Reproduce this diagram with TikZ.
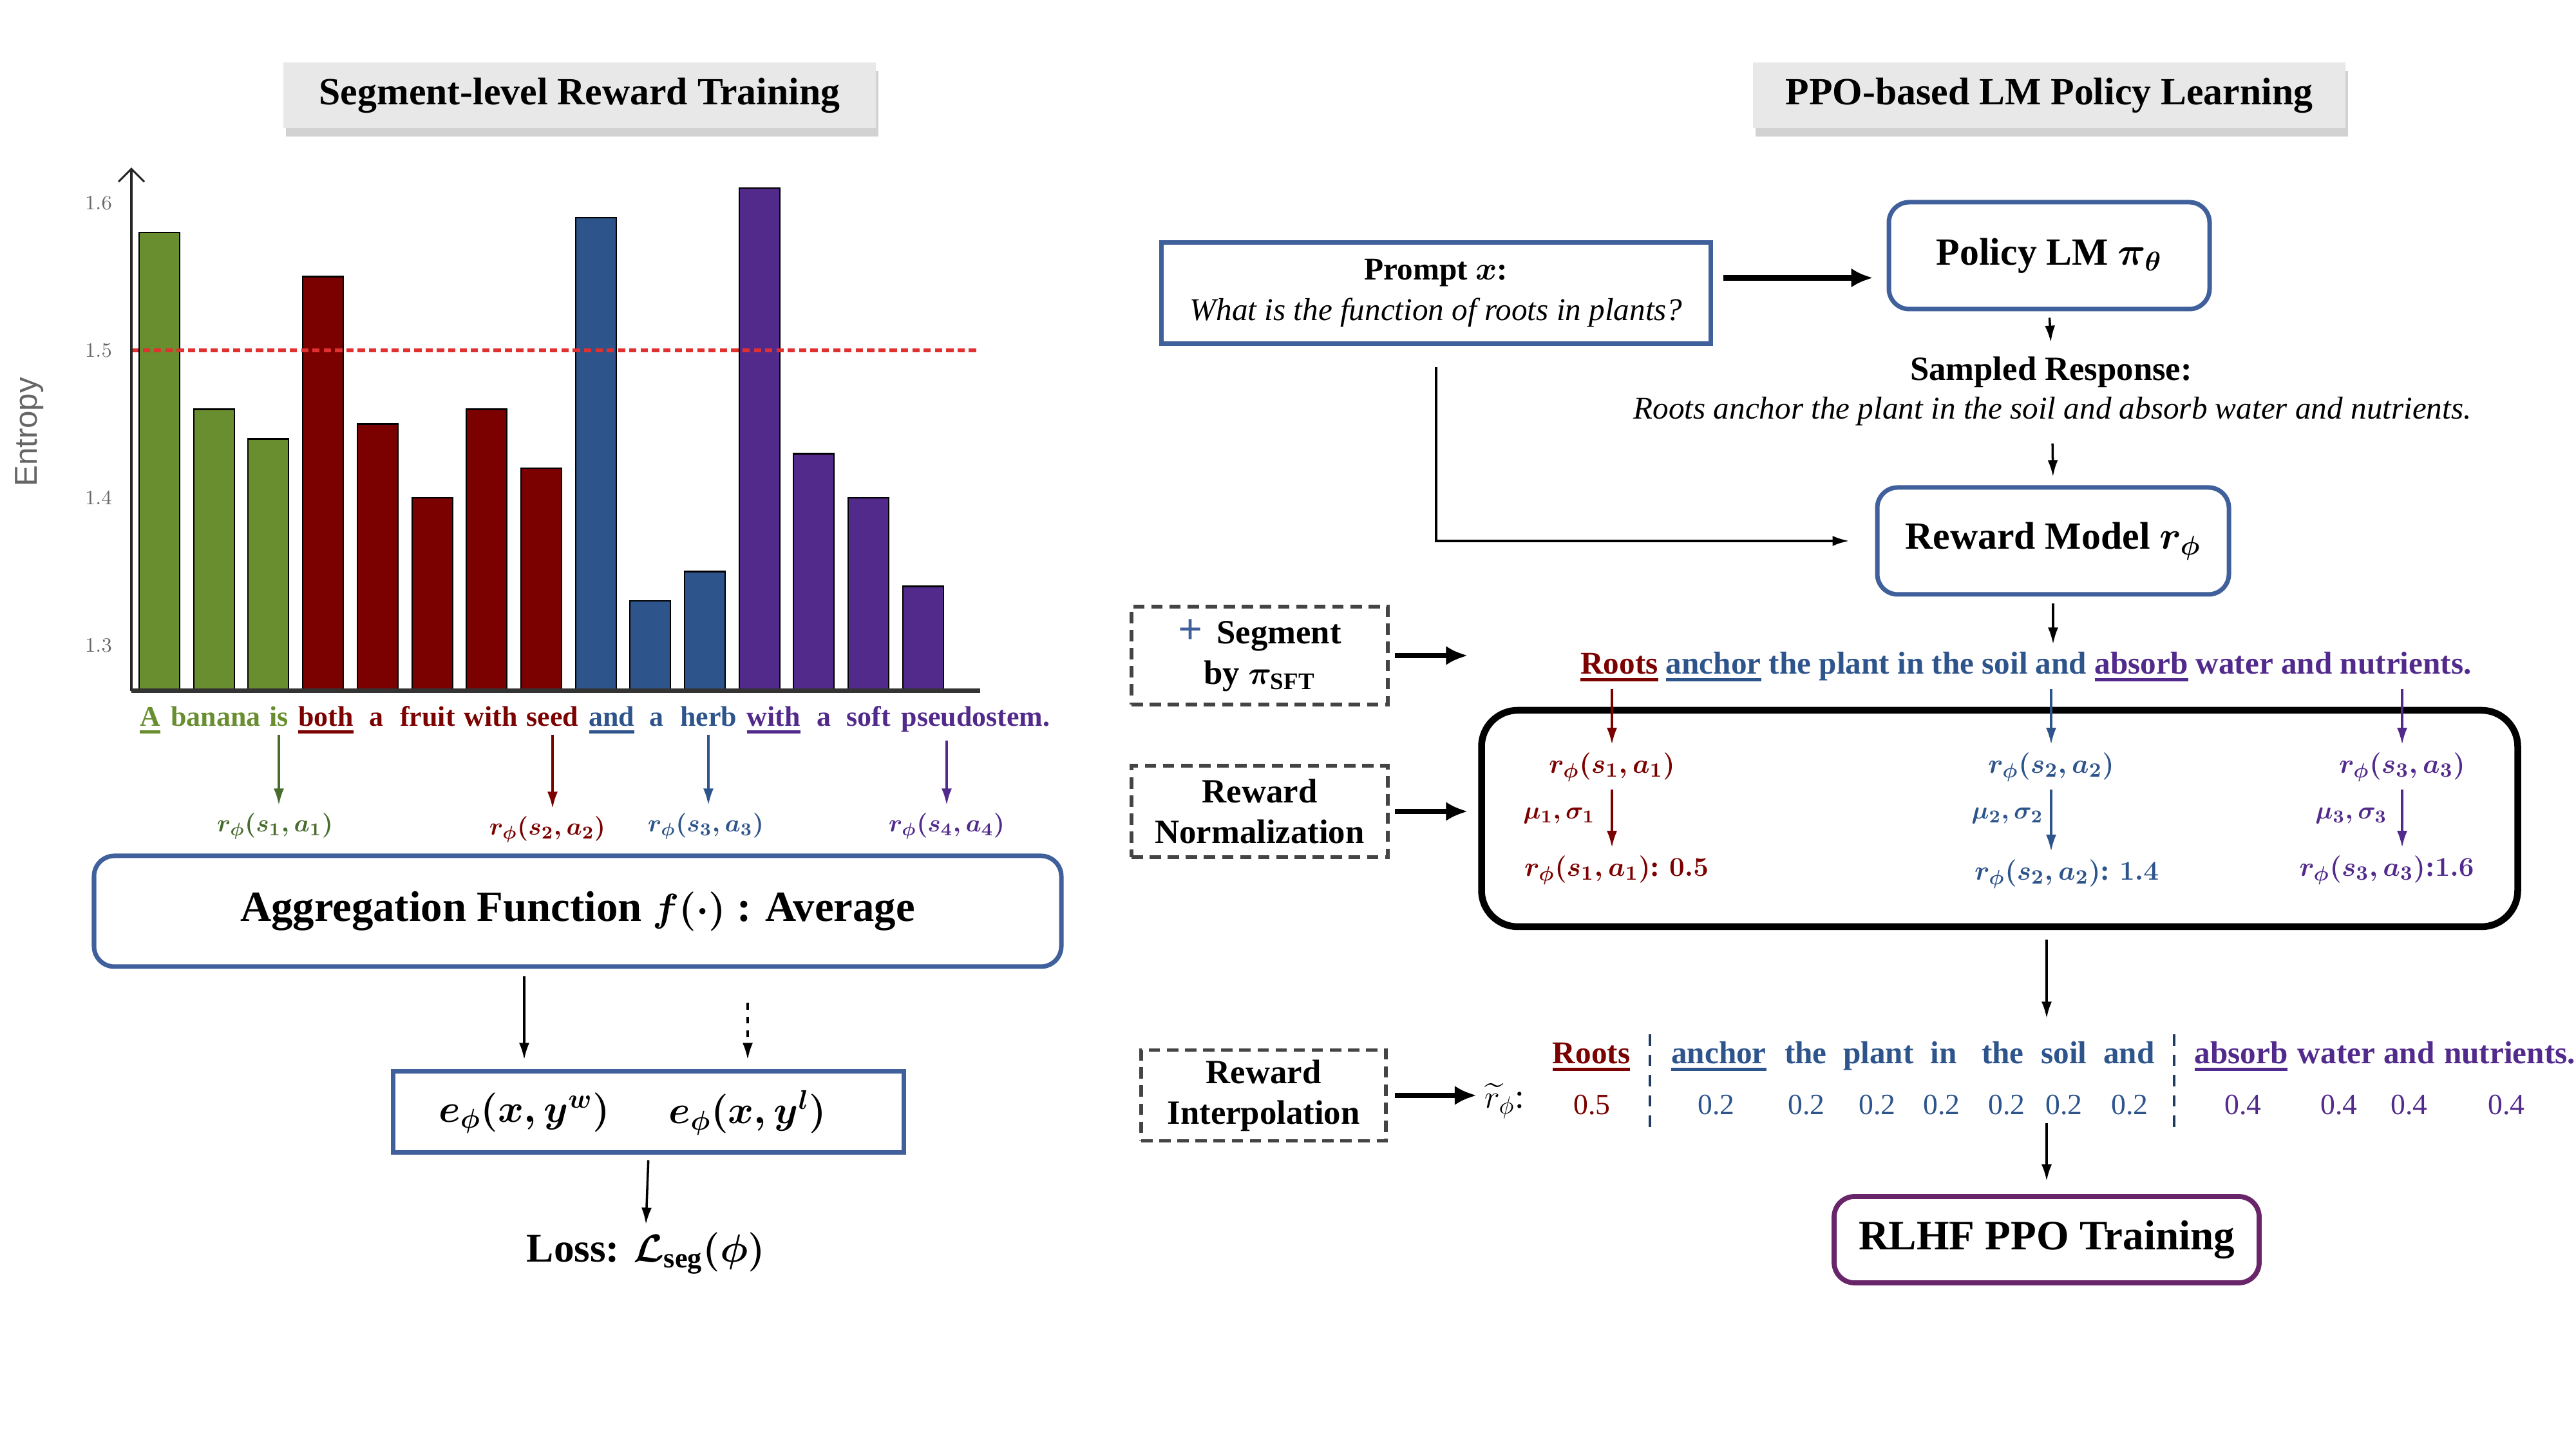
\documentclass[tikz,border=0pt]{standalone}
\usepackage{amsmath,amssymb}
\usepackage{fontspec}
\setmainfont{Liberation Serif}
\setsansfont{Liberation Sans}
\usepackage{tikz}
\usetikzlibrary{arrows.meta,positioning,shadows}

\definecolor{segG}{RGB}{104,142,48}
\definecolor{segGd}{RGB}{72,108,46}
\definecolor{segR}{RGB}{123,0,0}
\definecolor{segB}{RGB}{46,84,140}
\definecolor{segP}{RGB}{82,42,140}
\definecolor{boxblue}{RGB}{64,96,155}
\definecolor{ppobox}{RGB}{105,37,105}
\definecolor{dashgray}{RGB}{68,68,68}
\definecolor{cutline}{RGB}{224,48,48}

\newcommand{\sz}[2]{\fontsize{#1}{#2}\selectfont}
\newcommand{\segline}[1]{\setbox0=\hbox{#1}\rlap{\rule[-3pt]{\wd0}{1.2pt}}\box0\relax}

\tikzset{
>={Latex[length=2.6mm,width=1.6mm]}, % default arrow head
headbox/.style={fill=gray!18, minimum width=9.2cm, minimum height=1.02cm, font=\bfseries\sz{17}{20}, drop shadow={shadow xshift=0.4mm, shadow yshift=-1.3mm, fill=black!35}},
bar/.style={draw=black, line width=0.7pt},
ticklab/.style={text=black!60, font=\sz{9}{11}},
word/.style={anchor=base, font=\bfseries\sz{12.5}{15}},
rlab/.style={font=\bfseries\boldmath\sz{11}{13}},
bluebox/.style={draw=boxblue, line width=2pt, rounded corners=9pt},
sqbox/.style={draw=boxblue, line width=2pt},
dashbox/.style={draw=dashgray, line width=1.6pt, dash pattern=on 5pt off 3pt, align=center, font=\bfseries\boldmath\sz{15}{18}},
flow/.style={->, line width=1pt}, % thin connectors
bigflow/.style={-{Latex[length=3.4mm,width=3mm]}, line width=2.4pt}, % bold connectors
iword/.style={anchor=base, font=\bfseries\sz{14}{16}},
ival/.style={anchor=base, font=\sz{13}{15}},
}

\begin{document}
\begin{tikzpicture}
    \useasboundingbox (0,0) rectangle (40,22.5);
    % headers
    \node[headbox] at (9.0,21.02) (t1) {Segment-level Reward Training};
    \node[headbox] at (31.82,21.02) (t2) {PPO-based LM Policy Learning};

    % entropy bars
    \begin{scope}[yshift=-17.29cm, y=22.9cm]
    \draw[bar, fill=segG] (2.16,1.269) rectangle (2.79,1.58);
    \draw[bar, fill=segG] (3.01,1.269) rectangle (3.64,1.46);
    \draw[bar, fill=segG] (3.85,1.269) rectangle (4.48,1.44);
    \draw[bar, fill=segR] (4.70,1.269) rectangle (5.33,1.55);
    \draw[bar, fill=segR] (5.55,1.269) rectangle (6.18,1.45);
    \draw[bar, fill=segR] (6.40,1.269) rectangle (7.03,1.40);
    \draw[bar, fill=segR] (7.24,1.269) rectangle (7.87,1.46);
    \draw[bar, fill=segR] (8.09,1.269) rectangle (8.72,1.42);
    \draw[bar, fill=segB] (8.94,1.269) rectangle (9.57,1.59);
    \draw[bar, fill=segB] (9.78,1.269) rectangle (10.41,1.33);
    \draw[bar, fill=segB] (10.63,1.269) rectangle (11.26,1.35);
    \draw[bar, fill=segP] (11.48,1.269) rectangle (12.11,1.61);
    \draw[bar, fill=segP] (12.32,1.269) rectangle (12.95,1.43);
    \draw[bar, fill=segP] (13.17,1.269) rectangle (13.80,1.40);
    \draw[bar, fill=segP] (14.02,1.269) rectangle (14.65,1.34);
    \draw[cutline, line width=1.6pt, dash pattern=on 3.2pt off 1.8pt] (2.04,1.5) -- (15.2,1.5);
    \draw[-{Straight Barb[length=2mm]}, line width=0.9pt, black!85] (2.04,1.269) -- (2.04,1.624);
    \draw[line width=2pt, black!80] (2.04,1.269) -- (15.22,1.269);
    \node[ticklab] at (1.53,1.6) (y16) {$1.6$};
    \node[ticklab] at (1.53,1.5) (y15) {$1.5$};
    \node[ticklab] at (1.53,1.4) (y14) {$1.4$};
    \node[ticklab] at (1.53,1.3) (y13) {$1.3$};
    \end{scope}
    \node[rotate=90, text=black!60, font=\sffamily\sz{14}{16}] at (0.46,15.79) (ylab) {Entropy};

    % tokens under the bars
    \node[word, segG] at (2.33,11.22) (w1) {\segline{A}};
    \node[word, segG] at (3.35,11.22) (w2) {banana};
    \node[word, segG] at (4.33,11.22) (w3) {is};
    \node[word, segR] at (5.06,11.22) (w4) {\segline{both}};
    \node[word, segR] at (5.84,11.22) (w5) {a};
    \node[word, segR] at (6.64,11.22) (w6) {fruit};
    \node[word, segR] at (7.62,11.22) (w7) {with};
    \node[word, segR] at (8.58,11.22) (w8) {seed};
    \node[word, segB] at (9.50,11.22) (w9) {\segline{and}};
    \node[word, segB] at (10.19,11.22) (w10) {a};
    \node[word, segB] at (11.00,11.22) (w11) {herb};
    \node[word, segP] at (12.01,11.22) (w12) {\segline{with}};
    \node[word, segP] at (12.79,11.22) (w13) {a};
    \node[word, segP] at (13.49,11.22) (w14) {soft};
    \node[word, segP] at (15.15,11.22) (w15) {pseudostem.};
    \node[rlab, segGd] at (4.27,9.67) (r1) {$r_{\phi}(s_1,a_1)$};
    \node[rlab, segR] at (8.50,9.62) (r2) {$r_{\phi}(s_2,a_2)$};
    \node[rlab, segB] at (10.96,9.67) (r3) {$r_{\phi}(s_3,a_3)$};
    \node[rlab, segP] at (14.70,9.67) (r4) {$r_{\phi}(s_4,a_4)$};

    \node[bluebox, minimum width=15.02cm, minimum height=1.72cm, font=\bfseries\boldmath\sz{19}{22}] at (8.97,8.35) (agg) {Aggregation Function $f(\cdot)$ : Average};
    \node[sqbox, minimum width=7.93cm, minimum height=1.26cm] at (10.07,5.23) (ebox) {};
    \node[font=\boldmath\sz{17}{20}] at (8.14,5.22) (ew) {$e_{\phi}(x,y^{w})$};
    \node[font=\boldmath\sz{17}{20}] at (11.61,5.22) (el) {$e_{\phi}(x,y^{l})$};
    \node[font=\bfseries\boldmath\sz{18}{21}] at (10.03,3.04) (loss) {Loss: $\mathcal{L}_{\mathrm{seg}}(\phi)$};

    % policy side
    \node[sqbox, minimum width=8.53cm, minimum height=1.57cm, align=center, font=\sz{14}{18}] at (22.30,17.95) (prompt) {\textbf{Prompt \boldmath$x$:}\\ \textit{What is the function of roots in plants?}};
    \node[bluebox, minimum width=4.98cm, minimum height=1.66cm, font=\bfseries\boldmath\sz{17}{20}] at (31.82,18.53) (policy) {Policy LM $\pi_{\theta}$};
    \node[font=\bfseries\sz{15}{18}] at (31.85,16.72) (samp) {Sampled Response:};
    \node[font=\itshape\sz{14}{16}] at (31.87,16.11) (resp) {Roots anchor the plant in the soil and absorb water and nutrients.};
    \node[bluebox, minimum width=5.46cm, minimum height=1.66cm, font=\bfseries\boldmath\sz{17}{20}] at (31.88,14.10) (reward) {Reward Model $r_{\phi}$};
    \node[dashbox, minimum width=3.98cm, minimum height=1.52cm] at (19.56,12.32) (seg) {{\color{boxblue}\sz{19}{18}+}\, Segment\\ by $\pi_{\mathrm{SFT}}$};
    \node[anchor=base, font=\bfseries\sz{14}{16}] at (31.46,12.03) (resp2) {{\color{segR}\segline{Roots}} {\color{segB}\segline{anchor} the plant in the soil and} {\color{segP}\segline{absorb} water and nutrients.}};

    % normalization
    \node[draw, line width=3pt, rounded corners=16pt, minimum width=16.09cm, minimum height=3.36cm] at (31.05,9.79) (normbox) {};
    \node[dashbox, minimum width=3.98cm, minimum height=1.42cm] at (19.56,9.90) (norm) {Reward\\ Normalization};
    \node[rlab, segR, font=\bfseries\boldmath\sz{12.5}{15}] at (25.03,10.59) (n1) {$r_{\phi}(s_1,a_1)$};
    \node[rlab, segB, font=\bfseries\boldmath\sz{12.5}{15}] at (31.85,10.59) (n2) {$r_{\phi}(s_2,a_2)$};
    \node[rlab, segP, font=\bfseries\boldmath\sz{12.5}{15}] at (37.30,10.59) (n3) {$r_{\phi}(s_3,a_3)$};
    \node[segR, font=\boldmath\sz{11}{13}] at (24.21,9.83) (m1) {$\mu_1,\sigma_1$};
    \node[segB, font=\boldmath\sz{11}{13}] at (31.17,9.83) (m2) {$\mu_2,\sigma_2$};
    \node[segP, font=\boldmath\sz{11}{13}] at (36.51,9.83) (m3) {$\mu_3,\sigma_3$};
    \node[segR, font=\bfseries\boldmath\sz{12.5}{15}] at (25.10,8.99) (v1) {$r_{\phi}(s_1,a_1)$: $0.5$};
    \node[segB, font=\bfseries\boldmath\sz{12.5}{15}] at (32.09,8.93) (v2) {$r_{\phi}(s_2,a_2)$: $1.4$};
    \node[segP, font=\bfseries\boldmath\sz{12.5}{15}] at (37.06,8.99) (v3) {$r_{\phi}(s_3,a_3)$:$1.6$};

    % interpolation
    \node[dashbox, minimum width=3.80cm, minimum height=1.41cm] at (19.62,5.49) (interp) {Reward\\ Interpolation};
    \node[font=\sz{15}{18}, inner sep=1pt] at (23.36,5.40) (rt) {$\widetilde{r}_{\phi}$:};
    \node[iword, segR] at (24.71,5.98) (iw1) {\segline{Roots}};
    \node[iword, segB] at (26.69,5.98) (iw2) {\segline{anchor}};
    \node[iword, segB] at (28.04,5.98) (iw3) {the};
    \node[iword, segB] at (29.17,5.98) (iw4) {plant};
    \node[iword, segB] at (30.18,5.98) (iw5) {in};
    \node[iword, segB] at (31.10,5.98) (iw6) {the};
    \node[iword, segB] at (32.05,5.98) (iw7) {soil};
    \node[iword, segB] at (33.06,5.98) (iw8) {and};
    \node[iword, segP] at (34.80,5.98) (iw9) {\segline{absorb}};
    \node[iword, segP] at (36.28,5.98) (iw10) {water};
    \node[iword, segP] at (37.41,5.98) (iw11) {and};
    \node[iword, segP] at (38.97,5.98) (iw12) {nutrients.};
    \node[ival, segR] at (24.72,5.19) (iv1) {0.5};
    \node[ival, segB] at (26.65,5.19) (iv2) {0.2};
    \node[ival, segB] at (28.05,5.19) (iv3) {0.2};
    \node[ival, segB] at (29.15,5.19) (iv4) {0.2};
    \node[ival, segB] at (30.15,5.19) (iv5) {0.2};
    \node[ival, segB] at (31.16,5.19) (iv6) {0.2};
    \node[ival, segB] at (32.05,5.19) (iv7) {0.2};
    \node[ival, segB] at (33.07,5.19) (iv8) {0.2};
    \node[ival, segP] at (34.83,5.19) (iv9) {0.4};
    \node[ival, segP] at (36.32,5.19) (iv10) {0.4};
    \node[ival, segP] at (37.41,5.19) (iv11) {0.4};
    \node[ival, segP] at (38.92,5.19) (iv12) {0.4};
    \draw[segB!70!black, line width=1pt, dash pattern=on 5pt off 4pt] (25.62,6.44) -- (25.62,4.94) (33.76,6.44) -- (33.76,4.94);

    \node[draw=ppobox, line width=2.2pt, rounded corners=9pt, minimum width=6.60cm, minimum height=1.34cm, font=\bfseries\sz{18.5}{22}] at (31.78,3.25) (rlhf) {RLHF PPO Training};

    \coordinate (pin) at ([yshift=2.35mm]prompt.east);
    \draw[flow, shorten <=3.3mm, shorten >=4mm] (prompt.south) |- (reward.west);
    \draw
    (w3.south) edge[flow, segGd] (w3.south |- r1.north)
    (w8.south) edge[flow, segR] (w8.south |- r2.north)
    (w11.south) edge[flow, segB] (w11.south |- r3.north)
    (r4.north |- w15.south) edge[flow, segP] (r4.north)
    (agg.south -| ew.north) edge[flow, shorten <=1.2mm, shorten >=1.5mm] (ebox.north -| ew.north)
    (agg.south -| el.north) edge[flow, dashed, shorten <=5.3mm, shorten >=1.5mm] (ebox.north -| el.north)
    (ebox.south) edge[flow, shorten <=0.8mm] (loss.north)
    (pin) edge[bigflow, shorten <=1.6mm, shorten >=2.1mm] (pin -| policy.west)
    (policy.south) edge[flow, shorten <=1mm, shorten >=1mm] (samp.north)
    (resp.south) edge[flow, shorten <=1.5mm, shorten >=1.3mm] (reward.north)
    (reward.south) edge[flow, shorten <=1.1mm] (reward.south |- resp2.north)
    (seg.east) edge[bigflow, shorten <=0.8mm, shorten >=1.6mm] (seg.east -| normbox.west)
    (norm.east) edge[bigflow, shorten <=0.8mm, shorten >=1.6mm] (norm.east -| normbox.west)
    (interp.east) edge[bigflow, shorten <=1.1mm, shorten >=0.8mm] (interp.east -| rt.west)
    (n1.north |- resp2.south) edge[flow, segR] (n1.north)
    (n2.north |- resp2.south) edge[flow, segB] (n2.north)
    (n3.north |- resp2.south) edge[flow, segP] (n3.north)
    (n1.south) edge[flow, segR] (n1.south |- v1.north)
    (n2.south) edge[flow, segB] (n2.south |- v2.north)
    (n3.south) edge[flow, segP] (n3.south |- v3.north)
    (normbox.south -| rlhf.north) edge[flow, shorten <=1.5mm, shorten >=2.4mm] (rlhf.north |- iw6.north)
    (rlhf.north |- iv6.south) edge[flow, shorten >=2mm] (rlhf.north)
    ;
\end{tikzpicture}
\end{document}
